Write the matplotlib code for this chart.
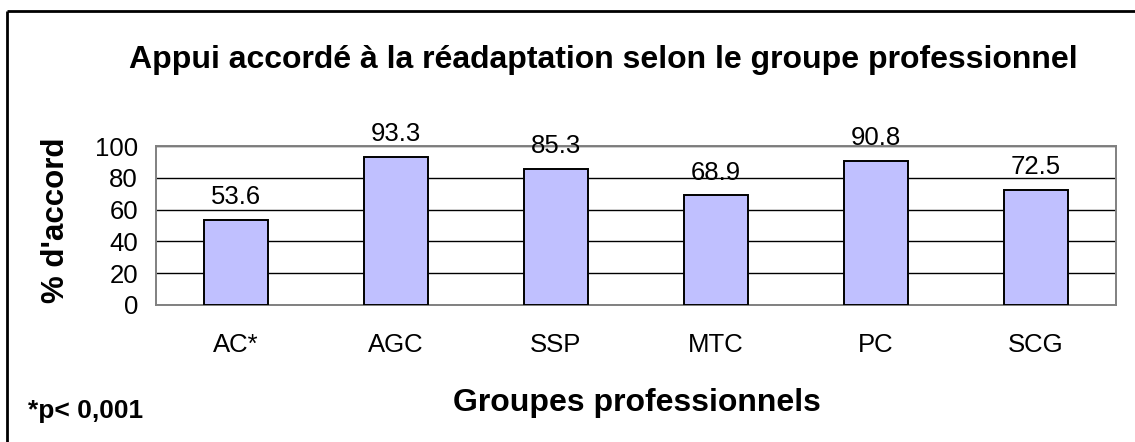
import matplotlib.pyplot as plt
from matplotlib.lines import Line2D

# Données
groupes = ["AC*", "AGC", "SSP", "MTC", "PC", "SCG"]
accord = [53.6, 93.3, 85.3, 68.9, 90.8, 72.5]
yticks = [0, 20, 40, 60, 80, 100]

plt.rcParams['font.family'] = ['Liberation Sans', 'DejaVu Sans']

W, H = 1135, 442
fig = plt.figure(figsize=(W / 100, H / 100), dpi=100)
ax = fig.add_axes([156 / W, 1 - 305 / H, 960 / W, 159 / H])

x = range(len(groupes))
ax.bar(x, accord, width=0.4, color='#C0C0FF', edgecolor='black',
       linewidth=1.4, zorder=3)
for xi, v in zip(x, accord):
    ax.text(xi, v + 10, f"{v:.1f}", ha='center', va='baseline', fontsize=18.5)

ax.set_xlim(-0.5, len(groupes) - 0.5)
ax.set_ylim(0, 100)
ax.set_yticks(yticks)
ax.set_xticks(list(x))
ax.set_xticklabels(groupes)
ax.tick_params(axis='both', length=0, labelsize=18.5)
ax.tick_params(axis='x', pad=20)
ax.tick_params(axis='y', pad=13)
ax.yaxis.grid(True, color='black', linewidth=1.0, zorder=0)
ax.set_axisbelow(True)
for s in ax.spines.values():
    s.set_color('#808080')
    s.set_linewidth(1.4)

# textes
fig.text(56 / W, 1 - 220 / H, "% d'accord", rotation=90,
         ha='center', va='center', fontsize=22.5, fontweight='bold')
fig.text(603 / W, 1 - 60 / H, "Appui accordé à la réadaptation selon le groupe professionnel",
         ha='center', va='center', fontsize=23, fontweight='bold')
fig.text(637 / W, 1 - 411 / H, "Groupes professionnels",
         ha='center', va='baseline', fontsize=23, fontweight='bold')
fig.text(28 / W, 1 - 418 / H, "*p< 0,001",
         ha='left', va='baseline', fontsize=19, fontweight='bold')

# cadre (haut et gauche seulement, image rognée)
fig.add_artist(Line2D([7 / W, 1], [1 - 11 / H, 1 - 11 / H], transform=fig.transFigure,
                      color='black', linewidth=2, solid_capstyle='butt'))
fig.add_artist(Line2D([7 / W, 7 / W], [0, 1 - 11 / H], transform=fig.transFigure,
                      color='black', linewidth=2, solid_capstyle='butt'))

fig.savefig("out.png", dpi=100)
